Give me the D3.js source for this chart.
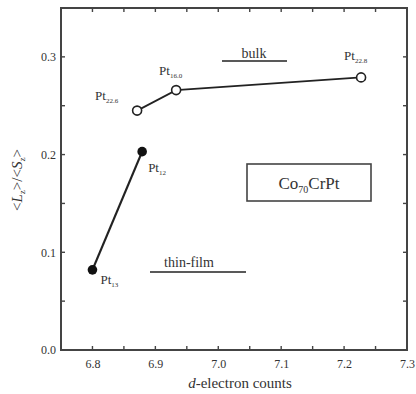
<!DOCTYPE html>
<html><head><meta charset="utf-8">
<script src="https://cdn.jsdelivr.net/npm/d3@7"></script>
<style>body{margin:0;background:#fff}svg{display:block}text{font-family:"Liberation Serif","DejaVu Serif",serif;fill:#333}</style>
</head><body><svg id="c" width="416" height="394"></svg>
<script>
const bulkX = [6.871, 6.933, 7.227];
const bulkY = [0.245, 0.266, 0.279];
const bulkSub = ["22.6", "16.0", "22.8"];
const filmX = [6.800, 6.879];
const filmY = [0.082, 0.203];
const filmSub = ["13", "12"];
const xTicks = [6.8, 6.9, 7.0, 7.1, 7.2, 7.3];
const yTicks = [0.0, 0.1, 0.2, 0.3];

const svg = d3.select("#c");
const L = 61, R = 407, T = 8, B = 350;
const x = d3.scaleLinear().domain([6.75, 7.3]).range([L, R]);
const y = d3.scaleLinear().domain([0, 0.35]).range([B, T]);
const col = "#222";

const minorX = d3.range(6.75, 7.3001, 0.05);
const minorY = d3.range(0, 0.3501, 0.05);

// axes
const ax = svg.append("g").attr("transform", `translate(0,${B})`)
  .call(d3.axisBottom(x).tickValues(xTicks).tickFormat(d3.format(".1f")).tickSize(0).tickPadding(9));
const ay = svg.append("g").attr("transform", `translate(${L},0)`)
  .call(d3.axisLeft(y).tickValues(yTicks).tickFormat(d3.format(".1f")).tickSize(0).tickPadding(5));
[ax, ay].forEach(g => { g.attr("font-family", "Liberation Serif"); g.select(".domain").remove(); g.selectAll("text").attr("font-size", 12).attr("fill", "#444"); });

// frame
svg.append("rect").attr("x", L).attr("y", T).attr("width", R - L).attr("height", B - T)
  .attr("fill", "none").attr("stroke", "#444").attr("stroke-width", 2);

// ticks inward
const tk = svg.append("g").attr("stroke", "#444").attr("stroke-width", 1.4);
minorX.forEach(v => {
  const len = 4;
  tk.append("line").attr("x1", x(v)).attr("x2", x(v)).attr("y1", B).attr("y2", B - len);
  tk.append("line").attr("x1", x(v)).attr("x2", x(v)).attr("y1", T).attr("y2", T + len);
});
minorY.forEach(v => {
  const len = 4;
  tk.append("line").attr("y1", y(v)).attr("y2", y(v)).attr("x1", L).attr("x2", L + len);
  tk.append("line").attr("y1", y(v)).attr("y2", y(v)).attr("x1", R).attr("x2", R - len);
});

const line = d3.line().x(d => x(d[0])).y(d => y(d[1]));
const bulk = bulkX.map((v, i) => [v, bulkY[i]]);
const film = filmX.map((v, i) => [v, filmY[i]]);

svg.append("path").attr("d", line(bulk)).attr("fill", "none").attr("stroke", col).attr("stroke-width", 1.8);
svg.append("path").attr("d", line(film)).attr("fill", "none").attr("stroke", col).attr("stroke-width", 2.2);

svg.selectAll(".ob").data(bulk).enter().append("circle")
  .attr("cx", d => x(d[0])).attr("cy", d => y(d[1])).attr("r", 4.5)
  .attr("fill", "#fff").attr("stroke", col).attr("stroke-width", 1.6);
svg.selectAll(".fb").data(film).enter().append("circle")
  .attr("cx", d => x(d[0])).attr("cy", d => y(d[1])).attr("r", 4.8)
  .attr("fill", "#111");

// point labels
function ptLabel(px, py, sub) {
  const t = svg.append("text").attr("x", px).attr("y", py).attr("font-size", 13);
  t.append("tspan").text("Pt");
  t.append("tspan").attr("font-size", 7).attr("dy", 3).text(sub);
}
ptLabel(x(bulkX[0]) - 42, y(bulkY[0]) - 11, bulkSub[0]);
ptLabel(x(bulkX[1]) - 17, y(bulkY[1]) - 15, bulkSub[1]);
ptLabel(x(bulkX[2]) - 17, y(bulkY[2]) - 17, bulkSub[2]);
ptLabel(x(filmX[0]) + 8, y(filmY[0]) + 14, filmSub[0]);
ptLabel(x(filmX[1]) + 6, y(filmY[1]) + 20, filmSub[1]);

// series labels
svg.append("text").attr("x", 254).attr("y", 58).attr("text-anchor", "middle").attr("font-size", 14).text("bulk");
svg.append("line").attr("x1", 222).attr("x2", 287).attr("y1", 61).attr("y2", 61).attr("stroke", col).attr("stroke-width", 1.4);
svg.append("text").attr("x", 189).attr("y", 267).attr("text-anchor", "middle").attr("font-size", 14).text("thin-film");
svg.append("line").attr("x1", 150).attr("x2", 246).attr("y1", 272).attr("y2", 272).attr("stroke", col).attr("stroke-width", 1.4);

// composition box
svg.append("rect").attr("x", 247).attr("y", 164).attr("width", 124).attr("height", 37)
  .attr("fill", "#fff").attr("stroke", "#444").attr("stroke-width", 1.6);
const ct = svg.append("text").attr("x", 309).attr("y", 189).attr("text-anchor", "middle").attr("font-size", 17);
ct.append("tspan").text("Co");
ct.append("tspan").attr("font-size", 10).attr("dy", 4).text("70");
ct.append("tspan").attr("dy", -4).text("CrPt");

// axis titles
const xt = svg.append("text").attr("x", 240).attr("y", 388).attr("text-anchor", "middle").attr("font-size", 15);
xt.append("tspan").attr("font-style", "italic").text("d");
xt.append("tspan").text("-electron counts");

const yt = svg.append("text").attr("transform", "translate(22,180) rotate(-90)").attr("text-anchor", "middle").attr("font-size", 15);
yt.append("tspan").text("<");
yt.append("tspan").attr("font-style", "italic").text("L");
yt.append("tspan").attr("font-size", 9).attr("dy", 3).text("z");
yt.append("tspan").attr("dy", -3).text(">/<");
yt.append("tspan").attr("font-style", "italic").text("S");
yt.append("tspan").attr("font-size", 9).attr("dy", 3).text("z");
yt.append("tspan").attr("dy", -3).text(">");
</script></body></html>
